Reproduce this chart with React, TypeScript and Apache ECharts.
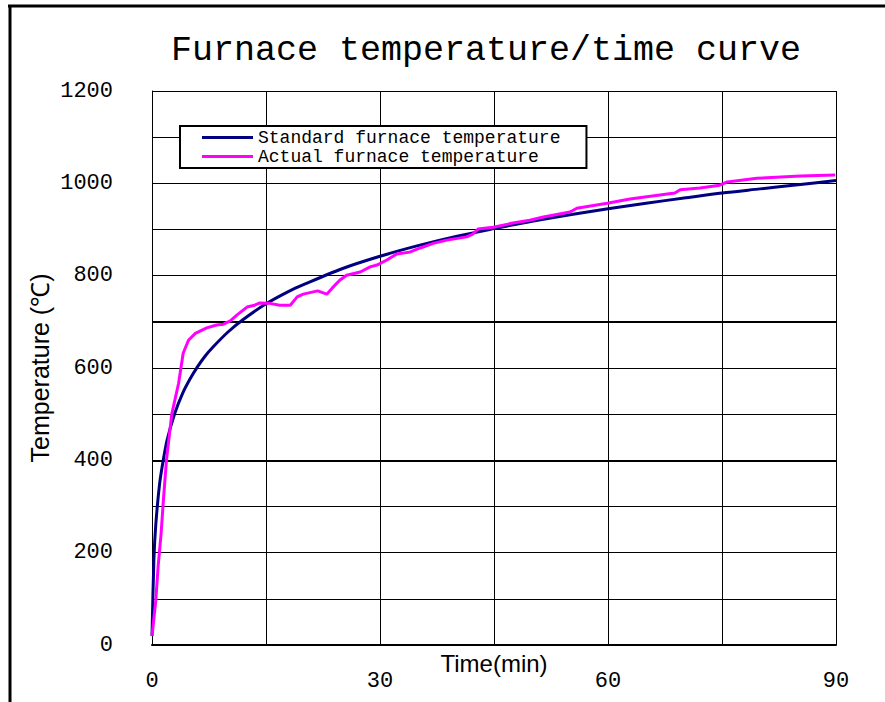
import React, { useEffect, useRef } from "react";
import * as echarts from "echarts";

const titleText = "Furnace temperature/time curve";
const xName = "Time(min)";
const yName = "Temperature (\u2103)";
const seriesNames = ["Standard furnace temperature", "Actual furnace temperature"];
const seriesColors = ["#000080", "#FF00FF"];

const stdTimes = [0, 0.25, 0.5, 1, 1.5, 2, 3, 4, 5, 6, 7, 8, 10, 12, 15, 18, 20, 25, 30, 35, 40, 45, 50, 55, 60, 65, 70, 75, 80, 85, 90];
const stdTemps = [20, 185, 261, 349, 402, 445, 502, 544, 576, 603, 626, 645, 678, 705, 739, 766, 781, 815, 842, 865, 885, 902, 918, 932, 945, 957, 968, 979, 988, 997, 1006];

const actTimes = [0, 0.13, 0.5, 0.8, 1.2, 1.5, 1.9, 2.6, 3.5, 4.1, 4.8, 5.7, 7.2, 8.5, 9.4, 10.3, 11.2, 12.5, 13.5, 14.2, 15.5, 16.8, 18.2, 19.1, 19.9, 21.8, 23, 23.7, 24.7, 25.6, 27.4, 28.7, 29.6, 30.9, 32.2, 33.9, 35.3, 37, 38.8, 41.4, 42.2, 42.9, 44.9, 47.5, 49.7, 51.5, 55, 55.9, 59.9, 62.9, 64.6, 68.8, 69.5, 72.1, 74.7, 75.7, 79.6, 85.3, 89.9];
const actTemps = [20, 39, 97, 169, 242, 314, 400, 500, 567, 632, 660, 675, 687, 693, 695, 702, 715, 732, 736, 741, 740, 736, 736, 754, 760, 767, 760, 773, 790, 801, 808, 819, 823, 834, 847, 851, 860, 870, 877, 884, 890, 901, 905, 914, 920, 927, 938, 946, 957, 966, 970, 979, 986, 990, 996, 1003, 1011, 1016, 1018];

const xMin = 0, xMax = 90, xStep = 15, xLabelStep = 30;
const yMin = 0, yMax = 1200, yStep = 100, yLabelStep = 200;
const boldGridValues = [400, 700];

const mono = "'Liberation Mono', 'DejaVu Sans Mono', monospace";
const sans = "'Liberation Sans', Arial, sans-serif";

export default function App() {
  const ref = useRef<HTMLDivElement>(null);
  useEffect(() => {
    if (!ref.current) return;
    const chart = echarts.init(ref.current, null, { renderer: "svg", width: 885, height: 702 });
    const stdData = stdTimes.map((t, i) => [t, stdTemps[i]]);
    const actData = actTimes.map((t, i) => [t, actTemps[i]]);
    chart.setOption({
      animation: false,
      backgroundColor: "#ffffff",
      title: {
        text: titleText,
        left: 481,
        top: 28,
        textAlign: "center",
        textStyle: { fontFamily: mono, fontSize: 35, fontWeight: "normal", color: "#000" },
      },
      grid: { left: 152, right: 49, top: 91, bottom: 57, containLabel: false, outerBoundsMode: "none" },
      legend: {
        orient: "vertical",
        left: 180,
        top: 126,
        padding: [2, 26, 2, 22],
        itemWidth: 51,
        itemHeight: 3,
        itemGap: 0,
        borderColor: "#000",
        borderWidth: 2,
        backgroundColor: "#fff",
        textStyle: { fontFamily: mono, fontSize: 18, color: "#000", lineHeight: 19 },
        data: seriesNames.map((n) => ({ name: n, icon: "rect" })),
      },
      xAxis: {
        type: "value",
        min: xMin,
        max: xMax,
        interval: xStep,
        name: xName,
        nameLocation: "middle",
        nameGap: 6,
        nameMoveOverlap: false,
        nameTextStyle: { fontFamily: sans, fontSize: 24, color: "#000", verticalAlign: "top" },
        axisLine: { show: true, lineStyle: { color: "#000", width: 2 } },
        axisTick: { show: false },
        splitLine: { show: true, lineStyle: { color: "#000", width: 1 } },
        axisLabel: {
          margin: 25,
          fontFamily: mono,
          fontSize: 22,
          color: "#000",
          formatter: (v: number) => (v % xLabelStep === 0 ? String(v) : ""),
        },
      },
      yAxis: {
        type: "value",
        min: yMin,
        max: yMax,
        interval: yStep,
        name: yName,
        nameLocation: "middle",
        nameGap: 100,
        nameRotate: 90,
        nameMoveOverlap: false,
        nameTextStyle: { fontFamily: sans, fontSize: 25, color: "#000" },
        axisLine: { show: true, lineStyle: { color: "#000", width: 1 } },
        axisTick: { show: false },
        splitLine: { show: true, lineStyle: { color: "#000", width: 1 } },
        axisLabel: {
          margin: 39,
          fontFamily: mono,
          fontSize: 22,
          color: "#000",
          formatter: (v: number) => (v % yLabelStep === 0 ? String(v) : ""),
        },
      },
      graphic: [
        { type: "line", shape: { x1: 10, y1: 5, x2: 10, y2: 702 }, style: { stroke: "#000", lineWidth: 3 } },
        { type: "line", shape: { x1: 8, y1: 6, x2: 885, y2: 6 }, style: { stroke: "#000", lineWidth: 3 } },
      ],
      series: [
        {
          name: seriesNames[0],
          type: "line",
          data: stdData,
          showSymbol: false,
          smooth: 0.3,
          z: 3,
          lineStyle: { color: seriesColors[0], width: 3 },
          itemStyle: { color: seriesColors[0] },
          markLine: {
            silent: true,
            symbol: "none",
            label: { show: false },
            lineStyle: { color: "#000", width: 2, type: "solid" },
            data: boldGridValues.map((v) => ({ yAxis: v })),
            z: 1,
          },
        },
        {
          name: seriesNames[1],
          type: "line",
          data: actData,
          showSymbol: false,
          z: 4,
          lineStyle: { color: seriesColors[1], width: 3 },
          itemStyle: { color: seriesColors[1] },
        },
      ],
    });
    return () => chart.dispose();
  }, []);
  return <div ref={ref} style={{ width: 885, height: 702, position: "absolute", left: 0, top: 0 }} />;
}
